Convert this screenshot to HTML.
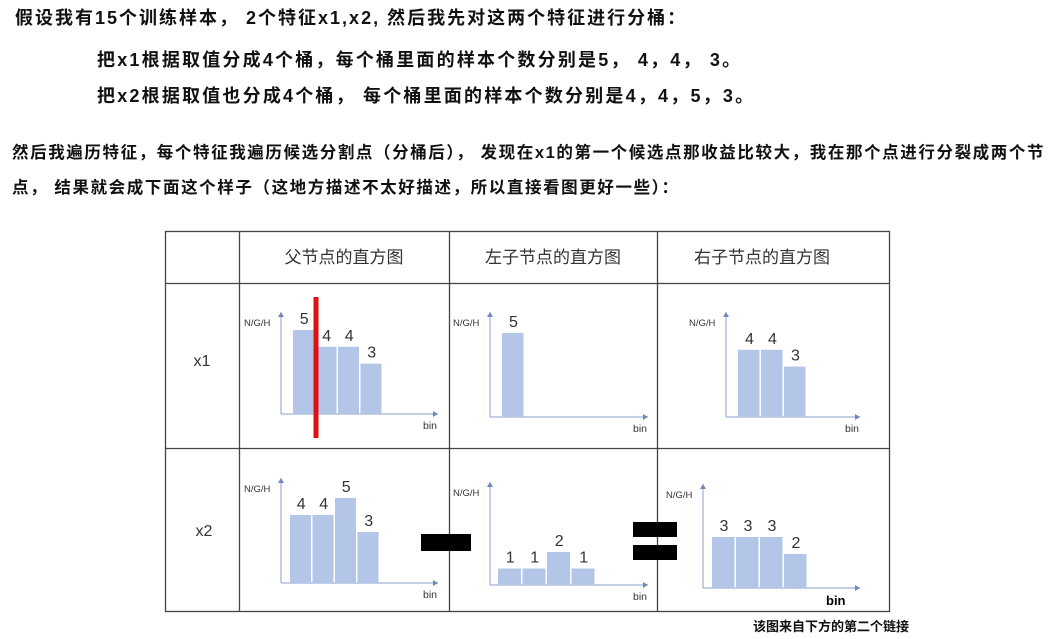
<!DOCTYPE html>
<html><head><meta charset="utf-8">
<style>
body{margin:0;width:1050px;height:639px;background:#fff;overflow:hidden;position:relative;font-family:"Liberation Sans","Noto Sans CJK SC",sans-serif;}
.t{position:absolute;font-weight:bold;color:#111;white-space:nowrap;}
</style></head><body>
<div class="t" style="left:15px;top:4px;font-size:18px;letter-spacing:2px;">假设我有15个训练样本， 2个特征x1,x2, 然后我先对这两个特征进行分桶：</div>
<div class="t" style="left:97px;top:46px;font-size:18px;letter-spacing:2.2px;">把x1根据取值分成4个桶，每个桶里面的样本个数分别是5， 4，4， 3。</div>
<div class="t" style="left:97px;top:82px;font-size:18px;letter-spacing:2.2px;">把x2根据取值也分成4个桶， 每个桶里面的样本个数分别是4，4，5，3。</div>
<div class="t" style="left:12px;top:139px;font-size:16.5px;letter-spacing:1.6px;">然后我遍历特征，每个特征我遍历候选分割点（分桶后）， 发现在x1的第一个候选点那收益比较大，我在那个点进行分裂成两个节</div>
<div class="t" style="left:12px;top:174px;font-size:16.5px;letter-spacing:1.6px;">点， 结果就会成下面这个样子（这地方描述不太好描述，所以直接看图更好一些）：</div>
<div class="t" style="left:753px;top:616px;font-size:13px;">该图来自下方的第二个链接</div>
<svg id="fig" width="1050" height="639" style="position:absolute;left:0;top:0" xmlns="http://www.w3.org/2000/svg"></svg>
<script>
const x1Parent=[5,4,4,3];
const x1Left=[5];
const x1Right=[4,4,3];
const x2Parent=[4,4,5,3];
const x2Left=[1,1,2,1];
const x2Right=[3,3,3,2];
const headers=["父节点的直方图","左子节点的直方图","右子节点的直方图"];
const rowLabels=["x1","x2"];
const svg=document.getElementById('fig');
const NS='http://www.w3.org/2000/svg';
function mk(tag,attrs,name){const e=document.createElementNS(NS,tag);for(const k in attrs)e.setAttribute(k,attrs[k]);


svg.appendChild(e);return e;}
function txt(x,y,s,size,name,anchor,weight){const e=mk('text',{x:x,y:y,'font-size':size,fill:weight?'#000':'#333','text-anchor':anchor||'start','font-family':'Liberation Sans, Noto Sans CJK SC, sans-serif','font-weight':weight||'normal'},name);e.textContent=s;return e;}
mk('rect',{x:165.5,y:231.5,width:724,height:380,fill:'none',stroke:'#444','stroke-width':1.3},'table-border');
[239,449,657].forEach((x,i)=>mk('line',{x1:x+.5,y1:231,x2:x+.5,y2:612,stroke:'#444','stroke-width':1.3},'column-divider'));
[283,448].forEach(y=>mk('line',{x1:165,y1:y+.5,x2:890,y2:y+.5,stroke:'#444','stroke-width':1.3},'row-divider'));
const hx=[344,553,762];
headers.forEach((h,i)=>txt(hx[i],263,h,17,'column-header','middle'));
txt(202,366,rowLabels[0],16,'row-label-x1','middle');
txt(204,536,rowLabels[1],16,'row-label-x2','middle');
function panel(vals,ax,base,top,xend,bx,bw,unit,name,boldBin){
 mk('line',{x1:ax,y1:base,x2:ax,y2:top,stroke:'#8a9cc8','stroke-width':1},name+'-y-axis');
 mk('path',{d:`M${ax-3},${top+5}L${ax},${top}L${ax+3},${top+5}Z`,fill:'#6f86c0'},name+'-y-arrow');
 mk('line',{x1:ax,y1:base,x2:xend,y2:base,stroke:'#8a9cc8','stroke-width':1},name+'-x-axis');
 mk('path',{d:`M${xend-5},${base-3}L${xend},${base}L${xend-5},${base+3}Z`,fill:'#6f86c0'},name+'-x-arrow');
 txt(ax-37,top+14,'N/G/H',9.5,name+'-y-title');
 if(boldBin)txt(xend-34,base+17,'bin',13,name+'-x-title','start','bold');
 else txt(xend-8,base+15,'bin',10.5,name+'-x-title','middle');
 vals.forEach((v,i)=>{const x=bx+i*bw,h=v*unit;
  mk('rect',{x:x,y:base-h,width:bw-1.5,height:h,fill:'#b3c6e7'},name+'-bar-'+i);
  txt(x+bw/2,base-h-6,String(v),16,name+'-value-'+i,'middle');});
}
panel(x1Parent,281,414,312,438,293,22.5,16.8,'x1-parent');
panel(x1Left,490,417,312,648,502,23,16.8,'x1-left');
panel(x1Right,726,417,312,860,738,23,16.8,'x1-right');
panel(x2Parent,281,583,478,438,290,22.5,17,'x2-parent');
panel(x2Left,490,585,482,648,498,24.5,16.5,'x2-left');
panel(x2Right,703,588,484,860,712,24,17,'x2-right',true);
mk('rect',{x:313.5,y:297,width:5,height:141,fill:'#e01010'},'split-line');
mk('rect',{x:421,y:534,width:50,height:17,fill:'#000'},'minus-sign');
mk('rect',{x:633,y:522,width:44,height:15,fill:'#000'},'equals-top');
mk('rect',{x:633,y:545,width:44,height:15,fill:'#000'},'equals-bottom');
</script>
</body></html>
